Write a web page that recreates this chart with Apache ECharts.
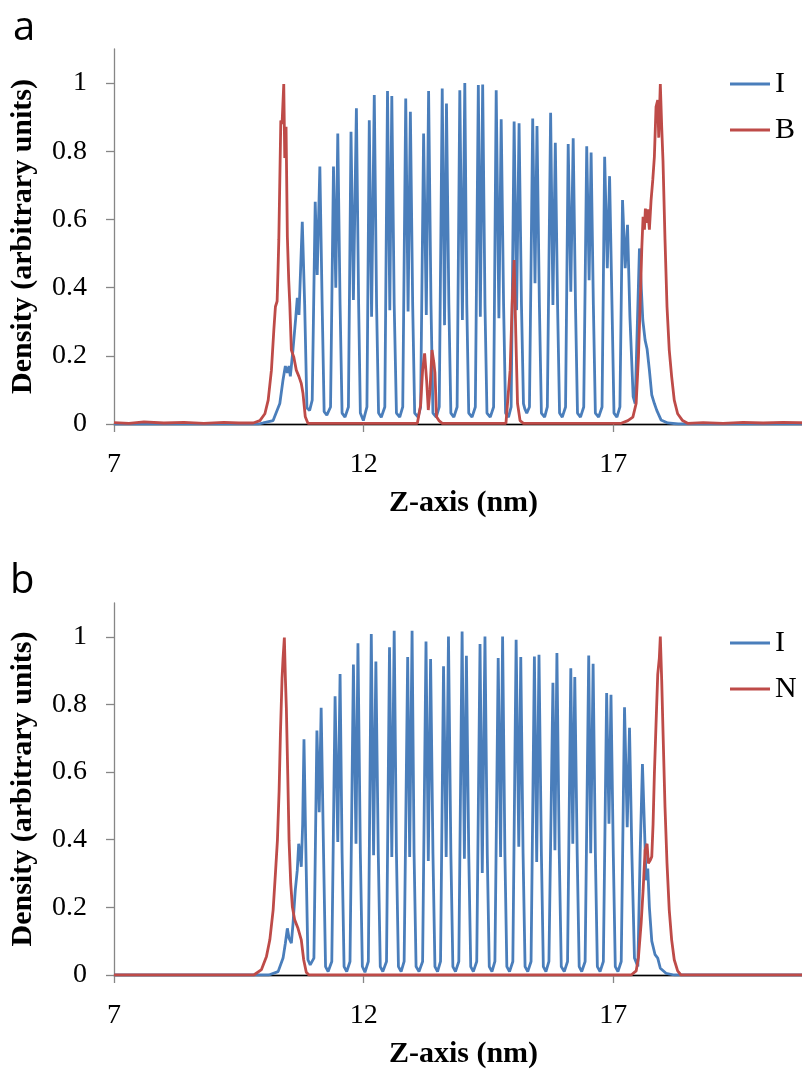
<!DOCTYPE html>
<html>
<head>
<meta charset="utf-8">
<script src="https://cdn.jsdelivr.net/npm/echarts@6/dist/echarts.min.js"></script>
<style>
  html, body { margin: 0; padding: 0; background: #fff; overflow: hidden; }
  #main { width: 813px; height: 1070px; }
</style>
</head>
<body>
<div id="main"></div>
<script>
// ---- tick values ----
const xTicks = [7, 12, 17];
const yTicks = [0, 0.2, 0.4, 0.6, 0.8, 1];

// ---- legend names ----
const legendA = ['I', 'B'];
const legendB = ['I', 'N'];

// ---- panel a: I density (z nm, density) ----
const aI = [[7,0],[9.9,0],[9.988,0.003],[10.187,0.01],[10.321,0.06],[10.386,0.13],[10.432,0.17],[10.472,0.15],[10.506,0.17],[10.532,0.14],[10.586,0.22],[10.639,0.31],[10.671,0.37],[10.705,0.32],[10.771,0.593],[10.819,0.35],[10.864,0.047],[10.918,0.04],
[10.970,0.07],[11.030,0.652],[11.070,0.437],[11.123,0.755],[11.169,0.35],[11.209,0.036],[11.263,0.026],
[11.337,0.05],[11.396,0.755],[11.442,0.40],[11.482,0.852],[11.528,0.35],[11.568,0.032],[11.627,0.02],
[11.695,0.05],[11.747,0.857],[11.795,0.364],[11.855,0.926],[11.900,0.35],[11.934,0.032],[11.994,0.01],
[12.066,0.05],[12.113,0.891],[12.159,0.315],[12.213,0.965],[12.259,0.35],[12.299,0.032],[12.353,0.02],
[12.424,0.05],[12.478,0.977],[12.524,0.334],[12.564,0.962],[12.612,0.35],[12.657,0.032],[12.723,0.02],
[12.783,0.05],[12.843,0.955],[12.890,0.33],[12.936,0.916],[12.982,0.35],[13.022,0.032],[13.090,0.02],
[13.141,0.05],[13.201,0.852],[13.255,0.32],[13.301,0.977],[13.349,0.35],[13.388,0.032],[13.454,0.02],
[13.514,0.05],[13.574,0.984],[13.620,0.29],[13.659,0.94],[13.707,0.35],[13.747,0.032],[13.807,0.02],
[13.872,0.05],[13.926,0.979],[13.978,0.305],[14.026,1.0],[14.066,0.35],[14.105,0.032],[14.171,0.02],
[14.237,0.05],[14.297,0.994],[14.337,0.315],[14.384,0.996],[14.430,0.35],[14.470,0.032],[14.536,0.02],
[14.603,0.05],[14.655,0.979],[14.709,0.31],[14.755,0.894],[14.803,0.35],[14.843,0.032],[14.902,0.02],
[14.954,0.05],[15.014,0.887],[15.064,0.334],[15.113,0.882],[15.161,0.35],[15.201,0.06],[15.227,0.045],[15.267,0.032],
[15.321,0.05],[15.386,0.896],[15.432,0.413],[15.472,0.874],[15.520,0.35],[15.560,0.032],[15.625,0.02],
[15.679,0.05],[15.745,0.913],[15.791,0.349],[15.839,0.825],[15.884,0.35],[15.924,0.032],[15.978,0.02],
[16.044,0.05],[16.097,0.821],[16.149,0.388],[16.197,0.838],[16.243,0.35],[16.283,0.032],[16.343,0.02],
[16.408,0.05],[16.468,0.815],[16.516,0.422],[16.556,0.796],[16.601,0.35],[16.641,0.032],[16.707,0.02],
[16.775,0.05],[16.827,0.784],[16.880,0.457],[16.926,0.727],[16.974,0.35],[17.014,0.032],[17.073,0.02],
[17.133,0.05],[17.185,0.657],[17.239,0.457],[17.285,0.584],[17.333,0.315],[17.398,0.08],[17.438,0.06],
[17.524,0.515],[17.591,0.305],[17.637,0.246],[17.677,0.22],[17.723,0.158],[17.771,0.085],[17.823,0.06],[17.871,0.04],[17.956,0.012],[18.090,0.003],[18.3,0],[21,0]];

// ---- panel a: B density ----
const aB = [[7,0.004],[7.3,0.002],[7.6,0.006],[8.0,0.003],[8.4,0.005],[8.8,0.002],[9.2,0.005],[9.5,0.003],[9.789,0.003],
[9.922,0.01],[10.022,0.03],[10.088,0.07],[10.153,0.158],[10.201,0.275],[10.233,0.344],[10.267,0.36],[10.285,0.45],[10.301,0.54],[10.321,0.716],[10.341,0.89],[10.366,0.88],[10.400,0.997],[10.420,0.78],[10.446,0.872],[10.472,0.55],[10.500,0.42],[10.520,0.355],[10.552,0.217],[10.600,0.197],[10.651,0.158],[10.705,0.139],[10.751,0.119],[10.785,0.09],[10.831,0.021],[10.884,0.002],
[13.076,0.002],[13.141,0.055],[13.181,0.158],[13.221,0.207],[13.261,0.129],[13.295,0.041],[13.329,0.1],[13.369,0.217],[13.408,0.178],[13.428,0.15],[13.460,0.021],[13.508,0.01],[13.574,0.002],
[14.85,0.002],[14.934,0.158],[14.974,0.35],[15.014,0.481],[15.048,0.26],[15.082,0.06],[15.133,0.01],[15.2,0.002],
[17.159,0.002],[17.293,0.01],[17.392,0.02],[17.458,0.06],[17.504,0.197],[17.538,0.35],[17.572,0.52],[17.597,0.608],[17.624,0.57],[17.643,0.632],[17.671,0.59],[17.691,0.63],[17.723,0.57],[17.757,0.657],[17.791,0.716],[17.823,0.784],[17.856,0.93],[17.890,0.95],[17.910,0.84],[17.942,0.997],[17.970,0.87],[17.996,0.77],[18.036,0.54],[18.076,0.344],[18.121,0.217],[18.169,0.139],[18.221,0.07],[18.289,0.03],[18.388,0.01],[18.488,0.002],
[18.8,0.004],[19.2,0.002],[19.6,0.005],[20.0,0.003],[20.4,0.005],[21,0.003]];

// ---- panel b: I density ----
const bI = [[7,0],[10.1,0],[10.287,0.01],[10.386,0.05],[10.432,0.094],[10.472,0.138],[10.506,0.109],[10.552,0.094],[10.586,0.153],[10.631,0.251],[10.671,0.31],[10.699,0.388],[10.725,0.36],[10.751,0.32],[10.779,0.447],[10.805,0.697],[10.839,0.4],[10.884,0.045],[10.930,0.03],
[11.004,0.05],[11.064,0.723],[11.110,0.481],[11.149,0.79],[11.197,0.36],[11.237,0.025],[11.289,0.01],
[11.362,0.04],[11.428,0.824],[11.482,0.393],[11.528,0.89],[11.568,0.36],[11.608,0.025],[11.661,0.01],
[11.727,0.04],[11.795,0.918],[11.847,0.388],[11.886,0.981],[11.934,0.36],[11.974,0.025],[12.026,0.008],
[12.094,0.04],[12.153,1.008],[12.199,0.354],[12.245,0.927],[12.293,0.36],[12.333,0.025],[12.384,0.01],
[12.458,0.04],[12.518,0.969],[12.564,0.349],[12.612,1.018],[12.657,0.36],[12.697,0.025],[12.751,0.01],
[12.811,0.04],[12.882,0.94],[12.922,0.349],[12.970,1.018],[13.010,0.36],[13.050,0.025],[13.109,0.01],
[13.181,0.04],[13.249,0.986],[13.295,0.337],[13.341,0.934],[13.388,0.36],[13.428,0.025],[13.480,0.01],
[13.540,0.04],[13.600,0.913],[13.653,0.349],[13.699,1.001],[13.747,0.36],[13.787,0.025],[13.839,0.01],
[13.906,0.04],[13.972,1.016],[14.018,0.344],[14.058,0.944],[14.105,0.36],[14.145,0.025],[14.197,0.01],
[14.265,0.04],[14.331,0.979],[14.376,0.302],[14.430,1.001],[14.476,0.36],[14.516,0.025],[14.570,0.01],
[14.629,0.04],[14.695,0.937],[14.743,0.349],[14.783,1.001],[14.829,0.36],[14.868,0.025],[14.922,0.01],
[14.988,0.04],[15.054,0.991],[15.107,0.379],[15.147,0.94],[15.193,0.36],[15.233,0.025],[15.287,0.01],
[15.353,0.04],[15.420,0.942],[15.466,0.334],[15.512,0.947],[15.560,0.36],[15.599,0.025],[15.651,0.01],
[15.711,0.04],[15.791,0.864],[15.831,0.369],[15.871,0.952],[15.918,0.36],[15.958,0.025],[16.018,0.01],
[16.084,0.04],[16.149,0.907],[16.189,0.388],[16.229,0.881],[16.277,0.36],[16.317,0.025],[16.368,0.01],
[16.436,0.04],[16.508,0.945],[16.548,0.36],[16.596,0.92],[16.641,0.36],[16.681,0.025],[16.735,0.01],
[16.801,0.04],[16.867,0.834],[16.914,0.447],[16.954,0.829],[17.000,0.36],[17.040,0.025],[17.093,0.01],
[17.159,0.04],[17.225,0.792],[17.279,0.437],[17.325,0.731],[17.372,0.36],[17.424,0.05],[17.492,0.025],
[17.538,0.36],[17.584,0.624],[17.628,0.42],[17.657,0.28],[17.691,0.315],[17.723,0.2],[17.771,0.1],[17.837,0.06],[17.890,0.05],[17.942,0.02],[18.056,0.005],[18.221,0],[21,0]];

// ---- panel b: N density ----
const bN = [[7,0],[9.8,0],[9.954,0.016],[10.054,0.055],[10.121,0.104],[10.187,0.192],[10.233,0.3],[10.273,0.398],[10.307,0.545],[10.333,0.712],[10.366,0.878],[10.386,0.937],[10.412,0.998],[10.432,0.88],[10.452,0.79],[10.480,0.594],[10.506,0.398],[10.540,0.27],[10.572,0.202],[10.619,0.163],[10.685,0.138],[10.751,0.104],[10.799,0.045],[10.851,0.008],[10.904,0],
[17.358,0],[17.458,0.012],[17.504,0.052],[17.558,0.153],[17.597,0.25],[17.637,0.369],[17.677,0.388],[17.703,0.33],[17.743,0.34],[17.771,0.35],[17.797,0.447],[17.823,0.594],[17.856,0.741],[17.890,0.888],[17.922,0.937],[17.942,1.001],[17.970,0.87],[17.996,0.72],[18.036,0.496],[18.076,0.33],[18.121,0.192],[18.169,0.104],[18.221,0.045],[18.289,0.012],[18.355,0],[21,0]];

const BLUE = '#4a7ebb';
const RED = '#be4b48';
const SERIF = '"Liberation Serif", "Times New Roman", serif';

function xAx(gi) {
  return {
    type: 'value', gridIndex: gi, min: 7, max: 21,
    name: 'Z-axis (nm)', nameLocation: 'middle', nameGap: 64,
    nameTextStyle: { fontFamily: SERIF, fontWeight: 'bold', fontSize: 30, color: '#000' },
    axisLine: { show: true, onZero: false, lineStyle: { color: '#868686', width: 1.3 } },
    axisTick: { show: true, length: 8, customValues: xTicks, lineStyle: { color: '#868686', width: 1.3 } },
    axisLabel: { customValues: xTicks, margin: 27, fontFamily: SERIF, fontSize: 28, color: '#000' },
    splitLine: { show: false }
  };
}
function xTop(gi) {
  return {
    type: 'value', gridIndex: gi, min: 7, max: 21, position: 'top',
    axisLine: { show: true, lineStyle: { color: '#000', width: 1.3 } },
    axisTick: { show: false }, axisLabel: { show: false }, splitLine: { show: false }
  };
}
function yAx(gi) {
  return {
    type: 'value', gridIndex: gi, min: 0, max: 1.1,
    name: 'Density (arbitrary units)', nameLocation: 'middle', nameGap: 76,
    nameTextStyle: { fontFamily: SERIF, fontWeight: 'bold', fontSize: 30, color: '#000' },
    axisLine: { show: true, lineStyle: { color: '#868686', width: 1.3 } },
    axisTick: { show: true, length: 8, customValues: yTicks, lineStyle: { color: '#868686', width: 1.3 } },
    axisLabel: { customValues: yTicks, margin: 27, fontFamily: SERIF, fontSize: 28, color: '#000' },
    splitLine: { show: false }
  };
}
function line(name, data, color, xi, yi) {
  return {
    type: 'line', name: name, data: data, xAxisIndex: xi, yAxisIndex: yi,
    symbol: 'none', showSymbol: false, smooth: false,
    lineStyle: { color: color, width: 2.8 }, itemStyle: { color: color },
    z: 2
  };
}
function legendCfg(names, top) {
  return {
    data: names.map(n => ({ name: n, icon: 'rect' })),
    orient: 'vertical', left: 725, top: top, itemWidth: 40, itemHeight: 3, itemGap: 16,
    textStyle: { fontFamily: SERIF, fontSize: 30, color: '#000' }, selectedMode: false
  };
}

const chart = echarts.init(document.getElementById('main'), null, { renderer: 'canvas' });
chart.setOption({
  animation: false,
  backgroundColor: '#fff',
  grid: [
    { left: 110, top: 49, width: 703, height: 375 },
    { left: 110, top: 603, width: 703, height: 374 }
  ],
  xAxis: [xAx(0), xAx(1), xTop(0), xTop(1)],
  yAxis: [yAx(0), yAx(1)],
  legend: [legendCfg(legendA, 64), legendCfg(legendB, 623)],
  graphic: [
    { type: 'text', left: 13, top: 9, style: { text: 'a', font: '40px "Open Sans"', fill: '#000' } },
    { type: 'text', left: 10, top: 562, style: { text: 'b', font: '40px "Open Sans"', fill: '#000' } }
  ],
  series: [
    line('I', aI, BLUE, 0, 0),
    line('B', aB, RED, 0, 0),
    line('I', bI, BLUE, 1, 1),
    line('N', bN, RED, 1, 1)
  ]
});
</script>
</body>
</html>
